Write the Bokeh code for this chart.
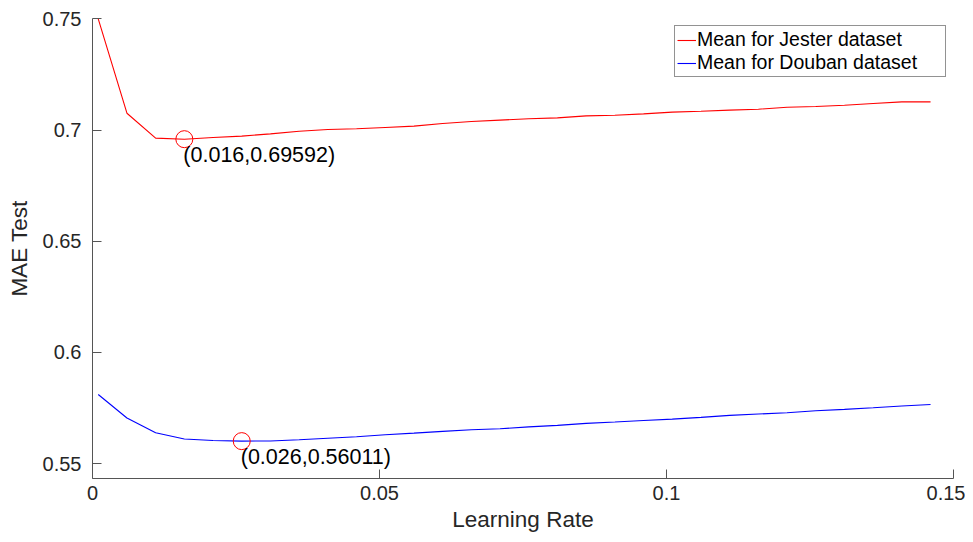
from bokeh.plotting import figure
from bokeh.models import Range1d, FixedTicker, ColumnDataSource
from bokeh.embed import file_html
from bokeh.resources import INLINE
from bokeh.core.properties import value

learning_rate = [0.001, 0.006, 0.011, 0.016, 0.021, 0.026, 0.031, 0.036, 0.041, 0.046,
                 0.051, 0.056, 0.061, 0.066, 0.071, 0.076, 0.081, 0.086, 0.091, 0.096,
                 0.101, 0.106, 0.111, 0.116, 0.121, 0.126, 0.131, 0.136, 0.141, 0.146]
jester_mae = [0.7500, 0.7076, 0.6964, 0.69592, 0.6967, 0.6973, 0.6983, 0.6995, 0.7003, 0.7006,
              0.7012, 0.7018, 0.7030, 0.7039, 0.7045, 0.7051, 0.7055, 0.7064, 0.7067, 0.7073,
              0.7081, 0.7085, 0.7090, 0.7094, 0.7103, 0.7106, 0.7112, 0.7120, 0.7127, 0.7127]
douban_mae = [0.5811, 0.5705, 0.5639, 0.5611, 0.5604, 0.56011, 0.5602, 0.5607, 0.5614, 0.5621,
              0.5630, 0.5637, 0.5645, 0.5652, 0.5657, 0.5665, 0.5672, 0.5681, 0.5687, 0.5694,
              0.5700, 0.5708, 0.5717, 0.5723, 0.5729, 0.5738, 0.5744, 0.5751, 0.5759, 0.5766]
min_x = [0.016, 0.026]
min_y = [0.69592, 0.56011]
min_labels = ["(0.016,0.69592)", "(0.026,0.56011)"]
x_ticks = [0, 0.05, 0.1, 0.15]
x_tick_labels = ["0", "0.05", "0.1", "0.15"]
y_ticks = [0.55, 0.6, 0.65, 0.7, 0.75]
y_tick_labels = ["0.55", "0.6", "0.65", "0.7", "0.75"]

FONT = "Liberation Sans"
AX = "#555555"

p = figure(width=965, height=534, output_backend="svg", toolbar_location=None,
           x_range=Range1d(0, 0.15), y_range=Range1d(0.5433, 0.7502),
           min_border_left=92, min_border_right=12, min_border_top=18, min_border_bottom=54)
p.outline_line_color = None
p.grid.visible = False
p.background_fill_color = "white"

p.line(learning_rate, jester_mae, line_color="#ff0000", line_width=1.1, legend_label="Mean for Jester dataset")
p.line(learning_rate, douban_mae, line_color="#0000ff", line_width=1.1, legend_label="Mean for Douban dataset")

src = ColumnDataSource(dict(x=min_x, y=min_y, t=min_labels))
p.scatter("x", "y", source=src, marker="circle", size=17, fill_color=None, line_color="#ff0000", line_width=1)
p.text("x", "y", text="t", source=src, text_font=value(FONT), text_font_size="21.5px",
       text_color="#000000", text_baseline="top", text_align="left", x_offset=-1, y_offset=4)

for ax, ticks, labels in ((p.xaxis[0], x_ticks, x_tick_labels), (p.yaxis[0], y_ticks, y_tick_labels)):
    ax.ticker = FixedTicker(ticks=ticks)
    ax.major_label_overrides = {t: l for t, l in zip(ticks, labels)}
    ax.minor_tick_line_color = None
    ax.major_tick_in = 9
    ax.major_tick_out = 0
    ax.axis_line_color = AX
    ax.major_tick_line_color = AX
    ax.major_label_text_font = FONT
    ax.major_label_text_font_size = "20px"
    ax.major_label_text_color = "#262626"
    ax.axis_label_text_font = FONT
    ax.axis_label_text_font_size = "22.5px"
    ax.axis_label_text_font_style = "normal"
    ax.axis_label_text_color = "#262626"

p.xaxis.axis_label = "Learning Rate"
p.yaxis.axis_label = "MAE Test"
p.xaxis.major_label_standoff = 7
p.yaxis.major_label_standoff = 11
p.xaxis.axis_label_standoff = 4
p.yaxis.axis_label_standoff = 8

lg = p.legend[0]
lg.location = "top_right"
lg.margin = 7
lg.padding = 2
lg.spacing = 0
lg.border_line_color = "#262626"
lg.border_line_width = 1
lg.label_text_font = FONT
lg.label_text_font_size = "19.5px"
lg.label_text_color = "#000000"
lg.label_height = 22
lg.label_width = 246
lg.glyph_height = 22
lg.glyph_width = 19
lg.label_standoff = 1
lg.background_fill_alpha = 1

open("out.html", "w").write(file_html(p, INLINE))
